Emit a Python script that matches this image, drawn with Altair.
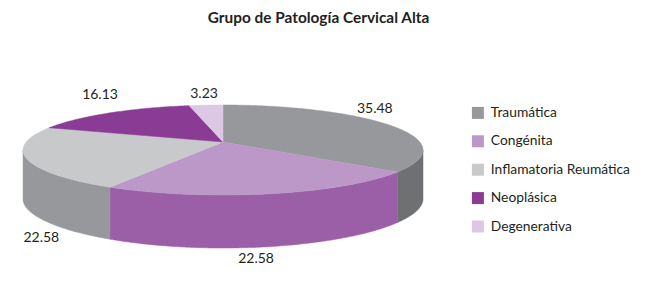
import numpy as np
import altair as alt

# --- chart data ---
categories = ["Traumática", "Congénita", "Inflamatoria Reumática", "Neoplásica", "Degenerativa"]
values = [35.48, 22.58, 22.58, 16.13, 3.23]
top_colors = ["#97989b", "#bc98c9", "#c8c9cb", "#8a3c94", "#dcc8e4"]
side_colors = ["#6f7072", "#9a5fa6", "#97989b", "#8a3c94", "#dcc8e4"]
label_shift = [(-12, -15), (-15, 65), (15, 80), (-10, -18), (-2, -11)]

TITLE = "Grupo de Patología Cervical Alta"
FONT = "Lato"
INK = "#231f20"
PAD_TOP = 30

# --- perspective disc, page pixels minus the page margin and the top padding ---
CX, CY = 223 - 8, 142 - 8 - PAD_TOP
R, A, K = 196.8, 43.6, 0.178


def project(deg, drop=False):
    t = np.radians(deg)
    u, v = np.sin(t), np.cos(t)
    w = 1 + K * v
    x = CX + R * u / w
    y = CY - A * v / w
    if drop:
        y = y + 49 + 4 * v ** 2
    return [float(x), float(y)]


def arc(a0, a1, drop=False):
    n = max(int(abs(a1 - a0) * 1.5), 2)
    return [project(a, drop) for a in np.linspace(a0, a1, n)]


def feature(ring, **props):
    return {
        "type": "Feature",
        "properties": props,
        "geometry": {"type": "Polygon", "coordinates": [ring + [ring[0]]]},
    }


bounds = np.concatenate([[0], np.cumsum(values) / np.sum(values) * 360])
front_start = np.degrees(np.arccos(-K))
front_end = 360 - front_start

tops, walls, labels = [], [], []
for i, name in enumerate(categories):
    a0, a1 = float(bounds[i]), float(bounds[i + 1])
    tops.append(feature([[float(CX), float(CY)]] + arc(a0, a1), cat=name))
    w0, w1 = max(a0, front_start), min(a1, front_end)
    if w1 > w0:
        walls.append(feature(arc(w0, w1) + arc(w1, w0, True), fill=side_colors[i]))
    px, py = project((a0 + a1) / 2)
    labels.append({"lon": px + label_shift[i][0], "lat": py + label_shift[i][1], "txt": f"{values[i]:.2f}"})

wall_layer = alt.Chart(alt.Data(values=walls)).mark_geoshape(strokeWidth=0.5).encode(
    fill=alt.Fill("properties.fill:N", scale=None),
    stroke=alt.Stroke("properties.fill:N", scale=None),
)

color_scale = alt.Scale(domain=categories, range=top_colors)
top_layer = alt.Chart(alt.Data(values=tops)).mark_geoshape(strokeWidth=0.5).encode(
    fill=alt.Fill(
        "properties.cat:N",
        scale=color_scale,
        legend=alt.Legend(
            title=None,
            orient="none",
            legendX=463,
            legendY=68,
            symbolType="square",
            symbolSize=144,
            symbolStrokeWidth=0,
            labelFont=FONT,
            labelFontSize=13.8,
            labelColor=INK,
            labelOffset=6,
            rowPadding=13.4,
        ),
    ),
    stroke=alt.Stroke("properties.cat:N", scale=color_scale, legend=None),
)

text_layer = alt.Chart(alt.Data(values=labels)).mark_text(
    font=FONT, fontSize=14, color=INK
).encode(
    longitude="lon:Q",
    latitude="lat:Q",
    text="txt:N",
)

chart = (
    alt.layer(wall_layer, top_layer, text_layer)
    .project(type="identity", scale=1, translate=[0, 0])
    .properties(
        width=631,
        height=248,
        padding={"left": 0, "top": PAD_TOP, "right": 0, "bottom": 0},
        autosize=alt.AutoSizeParams(type="none"),
        title=alt.TitleParams(
            TITLE, font=FONT, fontSize=15.4, fontWeight="bold", color=INK,
            anchor="middle", frame="group", dx=-5, offset=12,
        ),
    )
    .configure_view(stroke=None)
)

chart.save("out.html", embed_options={"renderer": "svg", "actions": False})
